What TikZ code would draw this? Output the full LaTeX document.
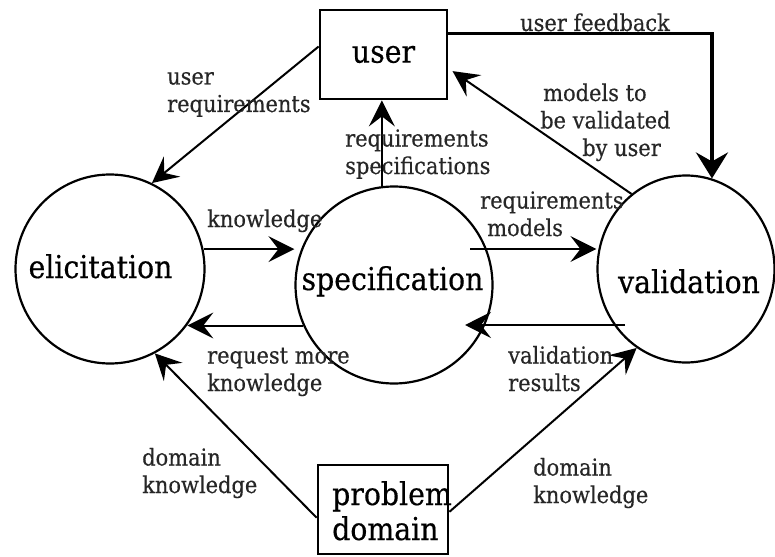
\documentclass[tikz,border=0pt]{standalone}
\usepackage{fontspec}
\setmainfont{DejaVu Serif Condensed}[FakeBold=0.4]
\usetikzlibrary{arrows.meta,shapes.geometric,calc}
\begin{document}
\begin{tikzpicture}[x=1pt,y=-1pt,
  circ/.style={draw,circle,line width=2.2pt,inner sep=0pt},
  ovalnode/.style={draw,ellipse,line width=2.2pt,inner sep=0pt},
  boxnode/.style={draw,rectangle,line width=2.8pt,inner sep=0pt},
  big/.style={font=\fontsize{31.5}{35}\selectfont,inner sep=0pt},
  lbl/.style={font=\fontsize{23.3}{27.5}\selectfont,align=left,inner sep=0pt,anchor=base west,text=black!85},
  arr/.style={line width=2pt,-{Stealth[length=26pt,width=26pt,inset=10pt]}},
  thickarr/.style={line width=3.8pt,-{Stealth[length=26pt,width=32pt,inset=9pt]}}
]
\useasboundingbox (0,0) rectangle (775,556);

% main nodes
\node[boxnode,big,minimum width=127pt,minimum height=89pt] (user) at (383.5,54.5) {user};
\node[boxnode,minimum width=130pt,minimum height=89pt] (prob) at (383,509.5) {};
\node[circ,minimum size=189pt] (eli) at (110,269) {};
\node[circ,minimum size=197pt] (spec) at (394,285) {};
\node[ovalnode,minimum width=177pt,minimum height=187pt] (val) at (686,269) {};

% texts in the shapes
\node[big,anchor=base] (eliT) at (100.5,278) {elicitation};
\node[big,anchor=base] (specT) at (392.5,290) {specification};
\node[big,anchor=base] (valT) at (689,293) {validation};
\node[big,anchor=base west,align=left] (probT) at (332,540) {problem\\domain};

% connectors
\draw[arr] (user.173) -- (eli.64);
\draw[arr] (spec.97) -- (spec.97 |- user.south);
\draw[thickarr] (user.18) -| (val.74);
\draw[arr,shorten >=5pt] (val.126) -- (user.-12);
\draw[arr] (eli.12) -- (eli.12 -| spec.west);
\coordinate (rmS) at ($(spec.center)+(76,-36)$);
\draw[arr] (rmS) -- (rmS -| val.west);
\draw[arr] (spec.204) -- (spec.204 -| eli.-36);
\coordinate (vrS) at ($(val.center)+(-61,56)$);
\coordinate (vrE) at ($(spec.center)+(71,40)$);
\draw[arr] (vrS) -- (vrE);
\draw[arr] (prob.187) -- (eli.-62);
\draw[arr] (prob.-2) -- (val.238);

% labels (anchor = baseline of the last line)
\node[lbl] (l1) at (167,112) {user\\requirements};
\node[lbl] (l2) at (345,174) {requirements\\specifications};
\node[lbl] (l3) at (520,31) {user feedback};
\node[lbl] (l4) at (543,156) {models to\\\hspace*{-3pt}be validated\\\hspace*{39pt}by user};
\node[lbl] (l5) at (207,227) {knowledge};
\node[lbl] (l6) at (480,236) {requirements\\\hspace*{7pt}models};
\node[lbl] (l7) at (207,391) {request more\\knowledge};
\node[lbl] (l8) at (508,391) {validation\\results};
\node[lbl] (l9) at (142,493) {domain\\knowledge};
\node[lbl] (l10) at (533,503) {domain\\knowledge};
\end{tikzpicture}
\end{document}
